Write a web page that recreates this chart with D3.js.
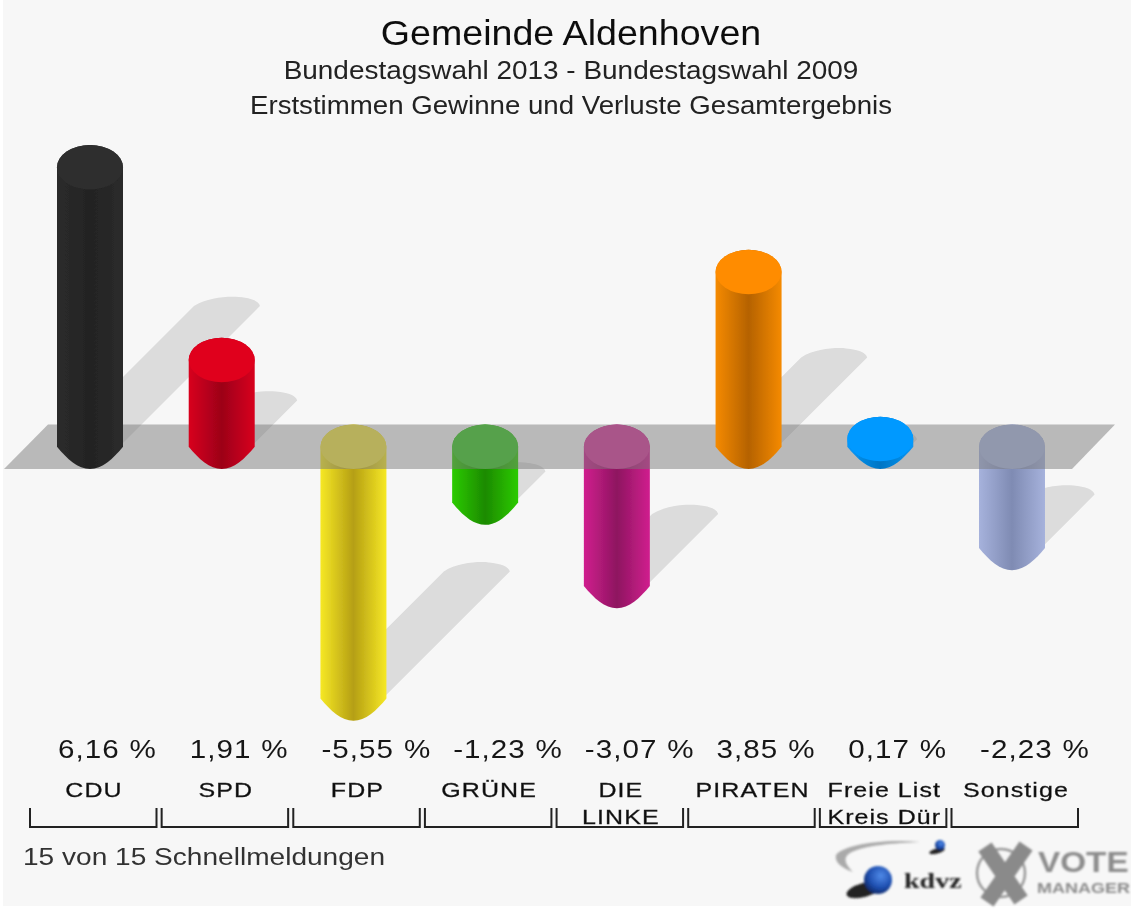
<!DOCTYPE html>
<html><head><meta charset="utf-8">
<script src="https://cdn.jsdelivr.net/npm/d3@7/dist/d3.min.js"></script>
<style>html,body{margin:0;padding:0;background:#fff;overflow:hidden}svg{display:block}text{font-family:"Liberation Sans",Arial,sans-serif}</style>
</head><body><div id="chart"></div>
<script>
const parties = ["CDU","SPD","FDP","GRÜNE","DIE LINKE","PIRATEN","Freie Liste Kreis Düren","Sonstige"];
const labelLine1 = ["CDU","SPD","FDP","GRÜNE","DIE","PIRATEN","Freie List","Sonstige"];
const labelLine2 = ["","","","","LINKE","","Kreis Dür",""];
const values = [6.16,1.91,-5.55,-1.23,-3.07,3.85,0.17,-2.23];
const valueLabels = ["6,16 %","1,91 %","-5,55 %","-1,23 %","-3,07 %","3,85 %","0,17 %","-2,23 %"];
const edgeColors = ["#2b2b2b","#d8001f","#f6e825","#2ccb00","#d01f8e","#f58a00","#0a96f5","#a6b2dc"];
const midColors  = ["#232323","#9c0018","#b59f14","#1c8a00","#8e1560","#b56200","#0075c4","#7f8bb3"];
const capColors  = ["#2f2f2f","#e0001f","#f4e640","#36c820","#d8329a","#ff8c00","#0099ff","#aab6e0"];

const W=1131,H=910;
const svg=d3.select("#chart").append("svg").attr("width",W).attr("height",H);
const defs=svg.append("defs");
const soft=defs.append("filter").attr("id","soft").attr("x","-5%").attr("y","-5%").attr("width","110%").attr("height","110%");
soft.append("feGaussianBlur").attr("stdDeviation",0.6);
const softer=defs.append("filter").attr("id","softer");
softer.append("feGaussianBlur").attr("stdDeviation",0.8);

const x=d3.scalePoint().domain(parties).range([90,1012]);
const y=d3.scaleLinear().domain([0,6.16]).range([424.5,145]);
const planeTop=y(0), planeBottom=469, rx=33, ry=22.2;
const unit=y(0)-y(1);
const bracket=d3.scalePoint().domain(parties).range([30,951.5]);

values.forEach((v,i)=>{
  const g=defs.append("linearGradient").attr("id","g"+i);
  g.append("stop").attr("offset","0").attr("stop-color",edgeColors[i]);
  g.append("stop").attr("offset","0.5").attr("stop-color",midColors[i]);
  g.append("stop").attr("offset","1").attr("stop-color",edgeColors[i]);
});

svg.append("rect").attr("x",3).attr("y",0).attr("width",W-3).attr("height",906).attr("fill","#f7f7f7");

const art=svg.append("g").attr("filter","url(#soft)");

const data=parties.map((p,i)=>({p,i,v:values[i]}));
const topOf=d=>d.v>=0?y(d.v):planeTop;
const bottomOf=d=>d.v>=0?planeBottom:y(d.v)+(planeBottom-planeTop);
art.selectAll(".shadow").data(data).join("path").attr("class","shadow")
  .attr("fill","#dcdcdc")
  .attr("d",d=>{
    const len=0.49*Math.abs(d.v)*unit, bx=x(d.p), by=bottomOf(d)-26, tx=bx+len, ty=by-len;
    return `M${bx-rx},${by} L${tx-rx},${ty} C${tx-rx+14},${ty-9} ${tx+2},${ty-10} ${tx+12},${ty-9} C${tx+24},${ty-8} ${tx+32},${ty-5} ${tx+rx},${ty} L${bx+rx},${by} Z`;
  });

function cylinder(sel){
  sel.append("path").attr("fill",d=>`url(#g${d.i})`).attr("d",d=>{
    const xc=x(d.p), t=topOf(d), b=bottomOf(d);
    return `M${xc-rx},${t+ry} A${rx},${ry} 0 0 1 ${xc+rx},${t+ry} L${xc+rx},${b-ry} C${xc+rx-10},${b-10} ${xc+12},${b} ${xc},${b} C${xc-12},${b} ${xc-rx+10},${b-10} ${xc-rx},${b-ry} Z`;
  });
  sel.append("ellipse").attr("cx",d=>x(d.p)).attr("cy",d=>topOf(d)+ry).attr("rx",rx).attr("ry",ry).attr("fill",d=>capColors[d.i]);
}

cylinder(art.selectAll(".neg").data(data.filter(d=>d.v<0)).join("g").attr("class","neg"));

art.append("polygon")
  .attr("points",[[4,planeBottom],[1072,planeBottom],[1115,planeTop],[48,planeTop]].map(p=>p.join(",")).join(" "))
  .attr("fill","#787878").attr("fill-opacity",0.49);

cylinder(art.selectAll(".pos").data(data.filter(d=>d.v>=0)).join("g").attr("class","pos"));

const txt=svg.append("g").attr("filter","url(#soft)").attr("fill","#111");
const place=(px,py,sx)=>`translate(${px},${py}) scale(${sx},1)`;
txt.append("text").attr("transform",place(571,44.5,1.09)).attr("text-anchor","middle").attr("font-size",34.5).text("Gemeinde Aldenhoven");
txt.append("text").attr("transform",place(571,78.5,1.075)).attr("text-anchor","middle").attr("font-size",26).attr("fill","#222").text("Bundestagswahl 2013 - Bundestagswahl 2009");
txt.append("text").attr("transform",place(571,113.5,1.063)).attr("text-anchor","middle").attr("font-size",26).attr("fill","#222").text("Erststimmen Gewinne und Verluste Gesamtergebnis");

txt.selectAll(".val").data(data).join("text").attr("class","val")
  .attr("transform",d=>place(x(d.p)-32,758,1.16)).attr("font-size",25.5).attr("letter-spacing",0.9).attr("word-spacing",0.5).attr("fill","#161616")
  .text(d=>valueLabels[d.i]);

const lab=txt.append("g").attr("font-size",21).attr("text-anchor","middle").attr("stroke","#222").attr("stroke-width",0.3).attr("letter-spacing",0.9);
lab.selectAll(".l1").data(data).join("text").attr("class","l1").attr("transform",d=>place(x(d.p)+4,796.5,1.19)).text(d=>labelLine1[d.i]);
lab.selectAll(".l2").data(data).join("text").attr("class","l2").attr("transform",d=>place(x(d.p)+4,824,1.19)).text(d=>labelLine2[d.i]);

txt.selectAll(".br").data(data).join("path").attr("class","br")
  .attr("fill","none").attr("stroke","#222").attr("stroke-width",2)
  .attr("d",d=>{const a=bracket(d.p);return `M${a},808 V827 H${a+126.5} V808`;});

txt.append("text").attr("transform",place(23,865,1.17)).attr("font-size",24).attr("fill","#333").text("15 von 15 Schnellmeldungen");

const logo=svg.append("g").attr("filter","url(#softer)");
const ball=defs.append("radialGradient").attr("id","ball").attr("cx","0.6").attr("cy","0.35").attr("r","0.7");
ball.append("stop").attr("offset","0").attr("stop-color","#4f8ae8");
ball.append("stop").attr("offset","0.6").attr("stop-color","#1f4fb0");
ball.append("stop").attr("offset","1").attr("stop-color","#0c2560");
logo.append("path").attr("d","M920,842 C880,838 842,846 836,855 C834,862 842,868 853,872 C846,865 842,858 850,853 C865,845 895,843 920,842 Z").attr("fill","#aaa");
logo.append("ellipse").attr("cx",864).attr("cy",890).attr("rx",18).attr("ry",7).attr("fill","#222").attr("transform","rotate(-15 864 890)");
logo.append("circle").attr("cx",878).attr("cy",880).attr("r",14).attr("fill","url(#ball)");
logo.append("ellipse").attr("cx",937).attr("cy",851).attr("rx",8).attr("ry",2.5).attr("fill","#222").attr("transform","rotate(-15 937 851)");
logo.append("circle").attr("cx",940).attr("cy",845).attr("r",5).attr("fill","url(#ball)");
logo.append("text").attr("transform",place(904,888,1.4)).attr("font-size",20).attr("font-weight","bold").attr("fill","#222").style("font-family","'Liberation Serif',serif").text("kdvz");
logo.append("circle").attr("cx",1001).attr("cy",873).attr("r",24).attr("fill","none").attr("stroke","#999").attr("stroke-width",2.5);
logo.append("path").attr("d","M985,847 L1021,900 M1026,846 L987,902").attr("fill","none").attr("stroke","#8a8a8a").attr("stroke-width",16);
logo.append("text").attr("transform",place(1038,872,1.11)).attr("font-size",30).attr("font-weight","bold").attr("fill","#8c8c8c").text("VOTE");
logo.append("text").attr("transform",place(1037,893,1.2)).attr("font-size",15).attr("font-weight","bold").attr("fill","#8c8c8c").text("MANAGER");
</script></body></html>
